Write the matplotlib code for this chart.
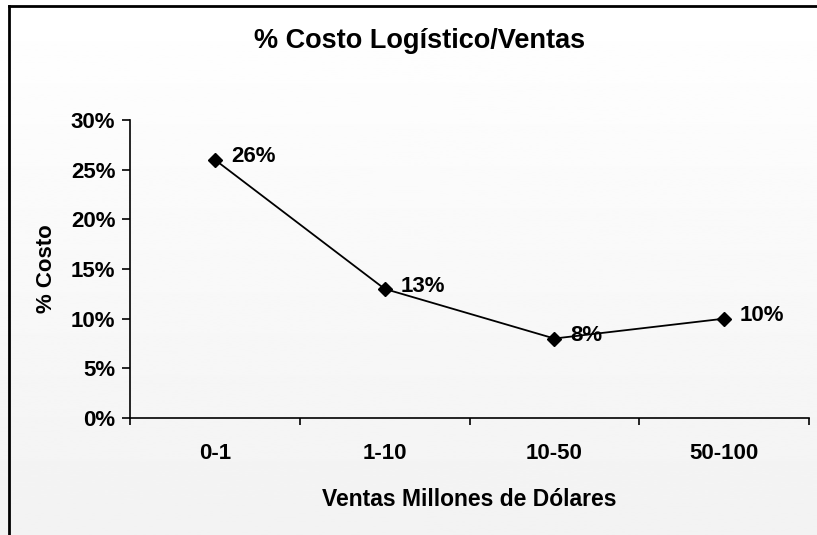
import numpy as np
import matplotlib.pyplot as plt
from matplotlib.lines import Line2D
from matplotlib.ticker import FuncFormatter

plt.rcParams['font.family'] = ['Liberation Sans', 'DejaVu Sans']
plt.rcParams['font.weight'] = 'bold'

rangos = ['0-1', '1-10', '10-50', '50-100']
costo = [0.26, 0.13, 0.08, 0.10]
etiquetas = ['26%', '13%', '8%', '10%']

fig = plt.figure(figsize=(8.17, 5.35), dpi=100)

# fondo con degradado suave
bg = fig.add_axes([0, 0, 1, 1], zorder=-10)
grad = np.linspace(1.0, 0.95, 256).reshape(-1, 1)
bg.imshow(grad, cmap='gray', vmin=0, vmax=1, aspect='auto', extent=[0, 1, 0, 1])
bg.set_axis_off()

# marco del grafico
fig.add_artist(Line2D([9 / 817, 9 / 817], [0, 1 - 6 / 535], transform=fig.transFigure,
                      color='black', lw=2))
fig.add_artist(Line2D([9 / 817, 1], [1 - 6 / 535, 1 - 6 / 535], transform=fig.transFigure,
                      color='black', lw=2))

ax = fig.add_axes([130 / 817, 117 / 535, 679 / 817, 298 / 535])
ax.patch.set_alpha(0)

x = np.arange(len(rangos))
ax.plot(x, costo, color='black', lw=1.3, marker='D', markersize=7.5, zorder=3)
for xi, yi, txt in zip(x, costo, etiquetas):
    ax.annotate(txt, (xi, yi), xytext=(11.5, 2), textcoords='offset points',
                ha='left', va='center', fontsize=16, fontweight='bold')

ax.set_xlim(-0.5, 3.5)
ax.set_ylim(0, 0.30)
ax.set_yticks(np.arange(0, 0.31, 0.05))
ax.yaxis.set_major_formatter(FuncFormatter(lambda v, p: f'{v * 100:.0f}%'))

ax.set_xticks(np.arange(-0.5, 3.6, 1.0))
ax.set_xticklabels([])
ax.set_xticks(x, minor=True)
ax.set_xticklabels(rangos, minor=True)
ax.tick_params(axis='x', which='minor', length=0, pad=18, labelsize=16)
ax.tick_params(axis='x', which='major', length=5, width=1.2, direction='out')
ax.tick_params(axis='y', length=5.5, width=1.2, direction='out', labelsize=16, pad=5)

for s in ['top', 'right']:
    ax.spines[s].set_visible(False)
for s in ['left', 'bottom']:
    ax.spines[s].set_linewidth(1.2)

ax.set_xlabel('Ventas Millones de Dólares', fontsize=16.5, fontweight='bold', labelpad=17)
ax.set_ylabel('% Costo', fontsize=16, fontweight='bold', labelpad=10)
fig.text(420 / 817, 1 - 41 / 535, '% Costo Logístico/Ventas', ha='center', va='center',
         fontsize=19.5, fontweight='bold')

fig.savefig('out.png', dpi=100)
